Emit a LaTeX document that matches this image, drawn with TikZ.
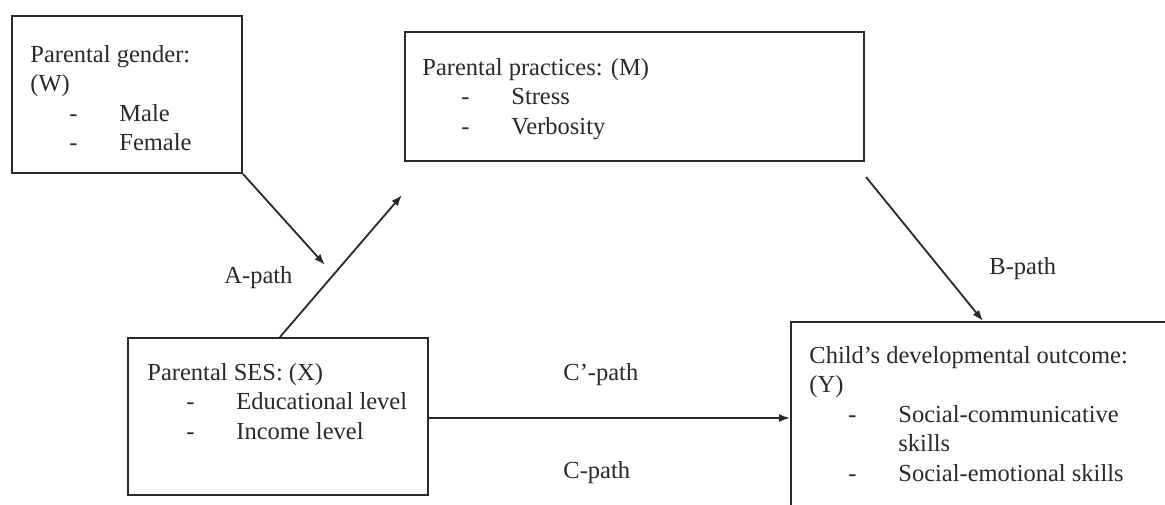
\documentclass[tikz,border=0pt]{standalone}
\usepackage{fontspec}
\setmainfont{Liberation Serif}
\usetikzlibrary{arrows.meta}
\definecolor{ink}{HTML}{2A2A2A}
\newcommand{\itm}[1]{\hspace*{19.5pt}\makebox[25pt][l]{-}#1}
\newcommand{\cnt}[1]{\hspace*{44.5pt}#1}
\begin{document}
\begin{tikzpicture}[x=0.5pt,y=-0.5pt,
  box/.style={draw=ink,line width=1pt,inner sep=0pt,fill=none},
  txt/.style={anchor=base west,inner sep=0pt,text=ink,font=\fontsize{12.25}{14.75}\selectfont},
  arr/.style={draw=ink,line width=0.9pt,-{Latex[length=5.5pt,width=4pt]}}]
\useasboundingbox (0,0) rectangle (1165,504);
\clip (0,0) rectangle (1165,504);
\fill[white] (0,0) rectangle (1165,504);
% boxes
\node[box,minimum width=115pt,minimum height=78.5pt] (W) at (127,94.5) {};
\node[box,minimum width=229.5pt,minimum height=64.5pt] (M) at (634.5,96.5) {};
\node[box,minimum width=150pt,minimum height=78.5pt] (X) at (278,416.5) {};
\node[box,minimum width=197pt,minimum height=104pt] (Y) at (988,426) {};
% box texts
\node[txt] (Wt) at (30,62) {\begin{tabular}[t]{@{}l@{}}Parental gender:\\(W)\\\itm{Male}\\\itm{Female}\end{tabular}};
\node[txt] (Mt) at (422,75) {\begin{tabular}[t]{@{}l@{}}Parental practices: (M)\\\itm{Stress}\\\itm{Verbosity}\end{tabular}};
\node[txt] (Xt) at (147,380) {\begin{tabular}[t]{@{}l@{}}Parental SES: (X)\\\itm{Educational level}\\\itm{Income level}\end{tabular}};
\node[txt] (Yt) at (809,363) {\begin{tabular}[t]{@{}l@{}}Child’s developmental outcome:\\(Y)\\\itm{Social-communicative}\\\cnt{skills}\\\itm{Social-emotional skills}\end{tabular}};
% free ends
\coordinate (wA) at (325,265);
\coordinate (aTip) at (402,195);
\coordinate (bStart) at (866,177);
% connectors
\draw[arr] (W.south east) -- (wA);
\draw[arr] ([xshift=1pt]X.north) -- (aTip);
\draw[arr] (bStart) -- ([xshift=-2.5pt]Y.north);
\draw[arr] ([yshift=-0.75pt]X.east) -- ([yshift=-0.75pt]Y.west |- X.east);
% path labels
\node[txt] (Alab) at (224,283) {A-path};
\node[txt] (Blab) at (989,274) {B-path};
\node[txt] (Cplab) at (563,380) {C’-path};
\node[txt] (Clab) at (563,478) {C-path};
\end{tikzpicture}
\end{document}
